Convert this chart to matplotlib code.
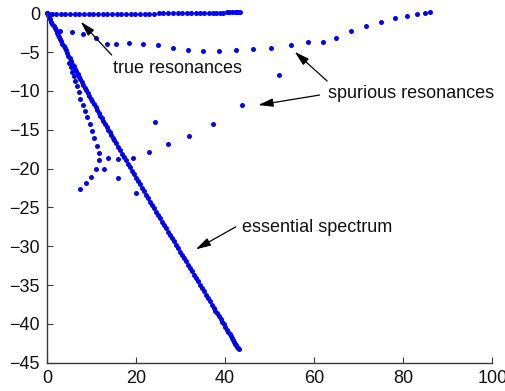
import matplotlib
matplotlib.use("Agg")
import matplotlib.pyplot as plt

plt.rcParams['font.family'] = ['Liberation Sans', 'DejaVu Sans']

# true resonances (near the real axis)
true_x = [0.0, 0.5, 1.0, 2.0, 3.05, 4.1, 5.15, 6.2, 7.25, 8.3, 9.35, 10.4, 11.45,
          12.5, 13.55, 14.6, 15.65, 16.7, 17.75, 18.8, 19.85, 20.9, 21.95, 23.0,
          24.05, 25.1, 26.15, 27.2, 28.25, 29.3, 30.35, 31.4, 32.4, 33.4, 34.4,
          35.35, 36.3, 37.2, 38.05, 38.85, 39.6, 40.3, 40.95, 41.55, 42.1, 42.55,
          42.95, 43.3]
true_y = [0.0, -0.03, -0.05, -0.05, -0.05, -0.05, -0.05, -0.05, -0.05, -0.05,
          -0.05, -0.05, -0.05, -0.05, -0.05, -0.05, -0.05, -0.05, -0.05, -0.05,
          -0.05, -0.04, -0.04, -0.03, -0.03, -0.02, -0.02, -0.01, -0.01, 0.0,
          0.0, 0.01, 0.02, 0.03, 0.03, 0.04, 0.05, 0.06, 0.08, 0.09, 0.1, 0.11,
          0.13, 0.14, 0.15, 0.16, 0.17, 0.18]

# essential spectrum (rotated ray)
ess_x = [0.0, 0.2, 0.45, 0.7, 0.95, 1.2, 1.45, 1.7, 1.95, 2.2, 2.45, 2.7, 2.95,
         3.2, 3.45, 3.7, 3.95, 4.2, 4.5, 4.8, 5.1, 5.4, 5.7, 6.0, 6.3, 6.6, 6.9,
         7.2, 7.5, 7.8, 8.1,
         8.45, 8.8, 9.15, 9.5, 9.85, 10.2, 10.55, 10.9, 11.25, 11.6, 11.95, 12.3,
         12.65, 13.0, 13.35, 13.7, 14.05, 14.4, 14.7, 15.0,
         15.45, 15.9, 16.35, 16.8, 17.25, 17.7, 18.15, 18.6, 19.05, 19.5, 19.95,
         20.4, 20.85, 21.3, 21.75, 22.2, 22.65, 23.1, 23.55, 24.0, 24.45, 24.9, 25.3,
         25.75, 26.2, 26.65, 27.1, 27.55, 28.0, 28.45, 28.9, 29.35, 29.8, 30.25,
         30.7, 31.15, 31.6, 32.05, 32.5, 32.95, 33.4, 33.85, 34.3, 34.75, 35.2,
         35.65, 36.1, 36.55, 37.0, 37.4, 37.8, 38.2, 38.6, 39.0, 39.35, 39.7,
         40.05, 40.4, 40.7, 41.0, 41.3, 41.55, 41.8, 42.05, 42.3, 42.5, 42.7,
         42.9, 43.05]
ess_y = [0.0, -0.23, -0.51, -0.79, -1.08, -1.36, -1.65, -1.93, -2.21, -2.5, -2.78,
         -3.06, -3.35, -3.63, -3.92, -4.2, -4.48, -4.77, -5.11, -5.45, -5.79,
         -6.13, -6.47, -6.81, -7.15, -7.49, -7.83, -8.17, -8.51, -8.85, -9.2,
         -9.56, -9.92, -10.28, -10.64, -11.0, -11.36, -11.72, -12.08, -12.44,
         -12.81, -13.17, -13.53, -13.89, -14.25, -14.61, -14.97, -15.33, -15.69,
         -16.0, -16.31,
         -16.74, -17.18, -17.62, -18.06, -18.51, -18.95, -19.39, -19.83, -20.27,
         -20.71, -21.15, -21.59, -22.03, -22.47, -22.92, -23.36, -23.8, -24.24,
         -24.68, -25.12, -25.56, -26.0, -26.39,
         -26.83, -27.26, -27.68, -28.11, -28.54, -28.97, -29.39, -29.82, -30.25,
         -30.68, -31.1, -31.53, -31.96, -32.39, -32.81, -33.24, -33.67, -34.1,
         -34.52, -34.95, -35.38, -35.81, -36.23, -36.66, -37.09, -37.52, -37.9,
         -38.28, -38.66, -39.04, -39.42, -39.75, -40.08, -40.41, -40.75, -41.04,
         -41.32, -41.61, -41.84, -42.08, -42.32, -42.55, -42.75, -42.93, -43.12,
         -43.26]

# spurious resonances
spur_x = [2.91, 5.54, 8.14, 10.99, 13.52, 15.47, 18.39, 21.59, 24.96, 28.32,
          31.68, 35.04, 38.57, 42.38, 46.26, 50.38, 54.71, 58.59, 61.95, 64.8,
          68.16, 71.68, 75.04, 78.09, 80.94, 83.18, 84.98, 86.1,
          52.08, 43.88, 37.29, 31.9, 27.2, 24.22, 22.87, 19.35, 16.03, 13.74,
          12.78, 15.87, 19.89,
          4.93, 5.27, 5.67, 6.05, 6.35, 6.73, 7.11, 7.47, 8.0, 8.52, 9.04, 9.57,
          10.09, 10.6, 11.14, 11.73, 11.59, 10.92, 9.87, 8.68, 7.33]
spur_y = [-2.28, -2.45, -2.67, -3.14, -3.92, -3.99, -3.79, -3.92, -4.11, -4.47,
          -4.73, -4.86, -4.82, -4.73, -4.6, -4.47, -4.09, -3.7, -3.7, -3.14,
          -2.28, -1.6, -1.08, -0.64, -0.31, -0.09, 0.08, 0.17,
          -7.99, -11.82, -14.27, -15.81, -16.88, -13.94, -17.91, -18.61, -18.75,
          -18.58, -20.0, -21.2, -23.12,
          -6.37, -6.92, -7.53, -8.08, -8.69, -9.37, -10.1, -11.0, -11.78, -12.55,
          -13.4, -14.27, -15.17, -16.1, -17.06, -17.96, -18.9, -20.1, -21.06,
          -21.9, -22.68]

fig = plt.figure(figsize=(5.06, 3.91), dpi=100)
ax = fig.add_axes([0.093, 0.0724, 0.88, 0.8936])

dot = dict(linestyle='none', marker='o', ms=3.6, mew=0, color='#0000ff', clip_on=False)
ax.plot(ess_x, ess_y, **dot)
ax.plot(true_x, true_y, **dot)
ax.plot(spur_x, spur_y, **dot)

ax.set_xlim(0, 100)
ax.set_ylim(-45, 0)
ax.set_xticks([0, 20, 40, 60, 80, 100])
ax.set_yticks([0, -5, -10, -15, -20, -25, -30, -35, -40, -45])
ax.spines['top'].set_visible(False)
ax.spines['right'].set_visible(False)
for s in ('left', 'bottom'):
    ax.spines[s].set_color('#3a3a3a')
    ax.spines[s].set_linewidth(1.0)
ax.tick_params(direction='in', length=4, width=0.8, color='#3a3a3a',
               labelsize=13, labelcolor='#111111', pad=5)

arr = dict(arrowstyle='-|>,head_width=0.25,head_length=0.9', color='black',
           lw=0.9, shrinkA=0, shrinkB=0)
tkw = dict(fontsize=13, color='#111111', va='center', ha='left')

ax.annotate('', xy=(7.56, -1.08), xytext=(14.5, -5.37), arrowprops=arr)
ax.text(14.73, -7.09, 'true resonances', **tkw)

ax.annotate('', xy=(55.6, -4.95), xytext=(62.9, -8.72), arrowprops=arr)
ax.annotate('', xy=(47.4, -11.82), xytext=(61.2, -10.53), arrowprops=arr)
ax.text(63.07, -10.31, 'spurious resonances', **tkw)

ax.annotate('', xy=(33.4, -30.4), xytext=(42.4, -27.5), arrowprops=arr)
ax.text(43.7, -27.63, 'essential spectrum', **tkw)

fig.savefig('out.png', dpi=100)
